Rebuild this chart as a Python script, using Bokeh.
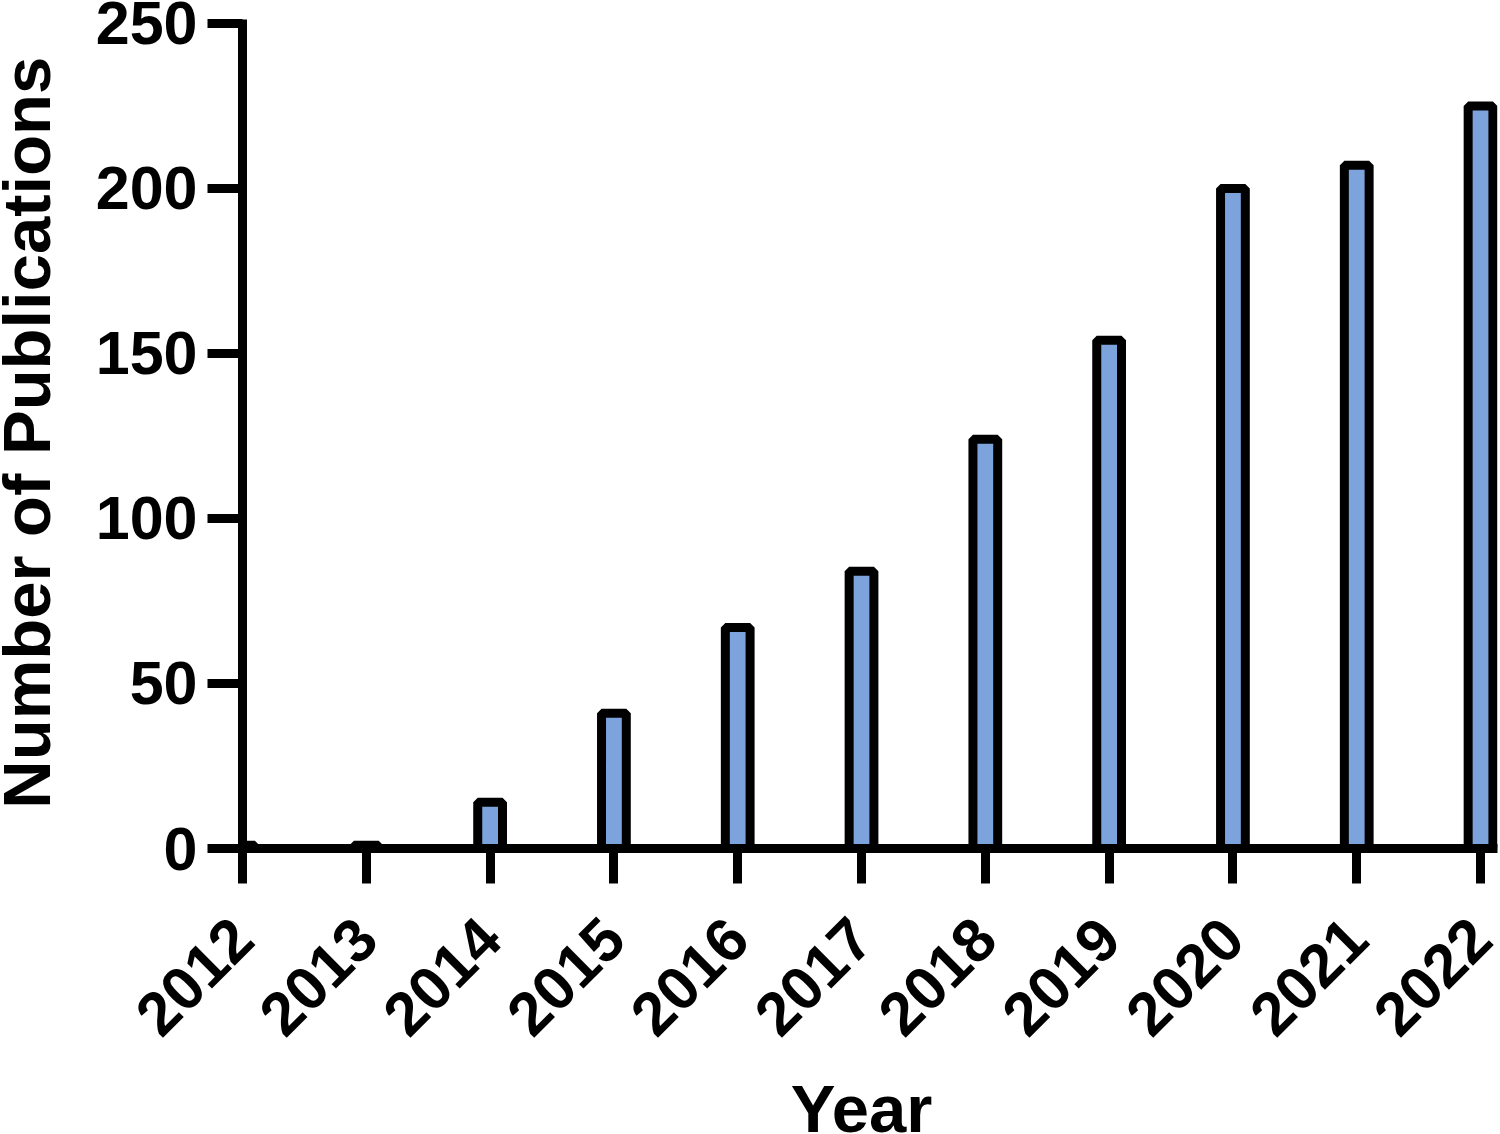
import math
from bokeh.plotting import figure
from bokeh.models import Range1d, FixedTicker, Label
from bokeh.embed import file_html
from bokeh.resources import INLINE

years = [2012, 2013, 2014, 2015, 2016, 2017, 2018, 2019, 2020, 2021, 2022]
publications = [1, 1, 14, 41, 67, 84, 124, 154, 200, 207, 225]
y_ticks = [0, 50, 100, 150, 200, 250]
x_label = "Year"
y_label = "Number of Publications"

FONT = "Liberation Sans"
BAR_FILL = "#7DA3DC"

p = figure(
    frame_width=1255, frame_height=829,
    min_border_left=242, min_border_right=3, min_border_top=19, min_border_bottom=286,
    x_range=Range1d(2012, 2022.137), y_range=Range1d(0, 251.2),
    output_backend="svg", toolbar_location=None,
    background_fill_color="white", border_fill_color="white",
)
p.outline_line_color = None
p.xgrid.visible = False
p.ygrid.visible = False

p.vbar(x=years, top=publications, bottom=0, width=0.2,
       fill_color=BAR_FILL, line_color="black", line_width=9)

for ax in (p.xaxis[0], p.yaxis[0]):
    ax.axis_line_width = 9
    ax.axis_line_color = "black"
    ax.major_tick_line_width = 9
    ax.major_tick_line_color = "black"
    ax.major_tick_out = 35
    ax.major_tick_in = 0
    ax.minor_tick_line_color = None
    ax.major_label_text_font = FONT
    ax.major_label_text_font_style = "bold"
    ax.major_label_text_font_size = "61px"
    ax.major_label_text_color = "black"

p.xaxis[0].ticker = FixedTicker(ticks=years)
p.xaxis[0].major_label_orientation = math.pi / 4
p.xaxis[0].major_label_standoff = 45

p.yaxis[0].ticker = FixedTicker(ticks=y_ticks)
p.yaxis[0].major_label_standoff = 10

# axis titles as labels in the side panels (not clipped to the frame)
p.add_layout(Label(x=2012, y=126, x_offset=-216, text=y_label, angle=math.pi / 2,
                   text_align="center", text_baseline="alphabetic",
                   text_font=FONT, text_font_style="bold", text_font_size="67px",
                   text_color="black"), "left")
p.add_layout(Label(x=2017, y=0, y_offset=-260, text=x_label,
                   text_align="center", text_baseline="alphabetic",
                   text_font=FONT, text_font_style="bold", text_font_size="67px",
                   text_color="black"), "below")

open("out.html", "w").write(file_html(p, INLINE))
